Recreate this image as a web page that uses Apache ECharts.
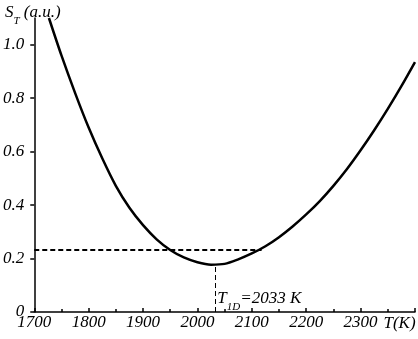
<!DOCTYPE html>
<html>
<head>
<meta charset="utf-8">
<script src="https://cdn.jsdelivr.net/npm/echarts@6/dist/echarts.min.js"></script>
<style>
  html, body { margin: 0; padding: 0; background: #fff; }
  #chart { width: 418px; height: 339px; }
</style>
</head>
<body>
<div id="chart"></div>
<script>
// 温度 (K) 和 S_T 曲线
var temps = [1727, 1750, 1775, 1800, 1825, 1850, 1875, 1900, 1925, 1950, 1975, 2000, 2025,
             2050, 2075, 2100, 2125, 2150, 2175, 2200, 2225, 2250, 2275, 2300, 2325, 2350, 2375, 2400];
var sValues = [1.10, 0.96, 0.82, 0.69, 0.575, 0.472, 0.39, 0.325, 0.272, 0.232, 0.204, 0.186, 0.177,
               0.180, 0.197, 0.219, 0.246, 0.280, 0.320, 0.365, 0.415, 0.472, 0.535, 0.605, 0.680, 0.760, 0.845, 0.935];
var yTicks = [0, 0.2, 0.4, 0.6, 0.8, 1.0];
var tMin = 2033, sMin = 0.176;
var hLevel = 0.2335, hEnd = 2118;

var font = 'Liberation Serif';
var chart = echarts.init(document.getElementById('chart'));

chart.setOption({
    animation: false,
    title: {
        text: '{s|S}{t|T}{n| (a.u.)}',
        left: 0,
        top: -2,
        textStyle: {
            fontWeight: 'normal',
            rich: {
                s: { fontFamily: font, fontStyle: 'italic', fontWeight: 'normal', fontSize: 17, lineHeight: 20, color: '#000' },
                t: { fontFamily: font, fontStyle: 'italic', fontWeight: 'normal', fontSize: 11, lineHeight: 20, verticalAlign: 'bottom', color: '#000', padding: [0, 0, -4, 0] },
                n: { fontFamily: font, fontStyle: 'italic', fontWeight: 'normal', fontSize: 17, lineHeight: 20, color: '#000' }
            }
        }
    },
    grid: { left: 32, right: 1, top: 18, bottom: 27 },
    xAxis: {
        type: 'value',
        min: 1700,
        max: 2400,
        interval: 100,
        name: 'T(K)',
        nameLocation: 'end',
        nameGap: -59,
        nameTextStyle: {
            fontFamily: font, fontStyle: 'italic', fontSize: 17, color: '#000',
            verticalAlign: 'top', padding: [3, 0, 0, 0]
        },
        axisLine: { lineStyle: { color: '#000', width: 1.5 } },
        axisTick: { inside: true, length: 4, lineStyle: { color: '#000', width: 1.5 } },
        minorTick: { show: true, splitNumber: 2, length: 3, lineStyle: { color: '#000', width: 1.5 } },
        splitLine: { show: false },
        axisLabel: {
            margin: 2,
            fontFamily: font, fontStyle: 'italic', fontSize: 17, color: '#000',
            formatter: function (v) { return v === 2400 ? '' : String(v); }
        }
    },
    yAxis: {
        type: 'value',
        min: 0,
        max: 1.1,
        axisLine: { show: true, lineStyle: { color: '#000', width: 1.5 } },
        axisTick: { show: true, length: 4, customValues: yTicks, lineStyle: { color: '#000', width: 1.5 } },
        splitLine: { show: false },
        axisLabel: {
            margin: 10,
            customValues: yTicks,
            fontFamily: font, fontStyle: 'italic', fontSize: 17, color: '#000',
            formatter: function (v) { return v === 0 ? '0' : v.toFixed(1); }
        }
    },
    series: [{
        type: 'line',
        data: temps.map(function (t, i) { return [t, sValues[i]]; }),
        smooth: 0.3,
        showSymbol: false,
        lineStyle: { color: '#000', width: 2.5 },
        markLine: {
            silent: true,
            symbol: 'none',
            label: { show: false },
            data: [
                [{ coord: [1700, hLevel], lineStyle: { type: [5, 3], width: 2, color: '#000' } }, { coord: [hEnd, hLevel] }],
                [{ coord: [tMin, 0], lineStyle: { type: [5, 3], width: 1, color: '#000' } }, { coord: [tMin, sMin] }]
            ]
        },
        markPoint: {
            silent: true,
            symbol: 'circle',
            symbolSize: 0,
            data: [{ coord: [tMin, 0.05] }],
            label: {
                show: true,
                position: 'right',
                distance: 2,
                formatter: '{a|T}{b|1D}{a|=2033 K}',
                rich: {
                    a: { fontFamily: font, fontStyle: 'italic', fontSize: 17, lineHeight: 20, color: '#000' },
                    b: { fontFamily: font, fontStyle: 'italic', fontSize: 11, lineHeight: 20, verticalAlign: 'bottom', color: '#000', padding: [0, 0, -4, 0] }
                }
            }
        }
    }]
});
</script>
</body>
</html>
